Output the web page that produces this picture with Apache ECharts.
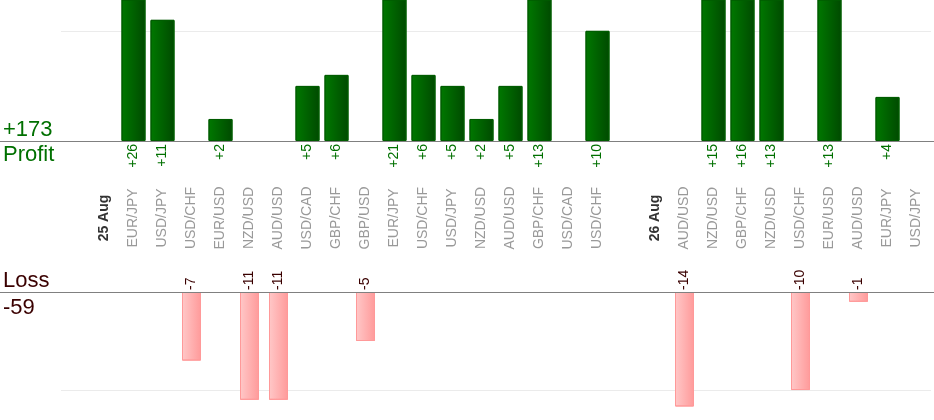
<!DOCTYPE html>
<html>
<head>
<meta charset="utf-8">
<script src="https://cdn.jsdelivr.net/npm/echarts@6/dist/echarts.min.js"></script>
<style>
  html, body { margin: 0; padding: 0; background: #fff; }
  #main { width: 934px; height: 420px; }
</style>
</head>
<body>
<div id="main"></div>
<script>
// slots along the x axis, '' = empty slot
var categories = ['', '25 Aug', 'EUR/JPY', 'USD/JPY', 'USD/CHF', 'EUR/USD', 'NZD/USD', 'AUD/USD', 'USD/CAD', 'GBP/CHF',
    'GBP/USD', 'EUR/JPY', 'USD/CHF', 'USD/JPY', 'NZD/USD', 'AUD/USD', 'GBP/CHF', 'USD/CAD', 'USD/CHF', '',
    '26 Aug', 'AUD/USD', 'NZD/USD', 'GBP/CHF', 'NZD/USD', 'USD/CHF', 'EUR/USD', 'AUD/USD', 'EUR/JPY', 'USD/JPY'];
var dates = ['25 Aug', '26 Aug'];
var profit = [null, null, 26, 11, null, 2, null, null, 5, 6,
    null, 21, 6, 5, 2, 5, 13, null, 10, null,
    null, null, 15, 16, 13, null, 13, null, 4, null];
var loss = [null, null, null, null, -7, null, -11, -11, null, null,
    -5, null, null, null, null, null, null, null, null, null,
    null, -14, null, null, null, -10, null, -1, null, null];

var font = 'Liberation Sans, Arial, sans-serif';
var green = '#007000';
var maroon = '#3a0000';

var totalProfit = profit.reduce(function (s, v) { return s + (v || 0); }, 0);
var totalLoss = loss.reduce(function (s, v) { return s + (v || 0); }, 0);

var chart = echarts.init(document.getElementById('main'));

var option = {
    animation: false,
    backgroundColor: '#fff',
    grid: [
        {left: 61, right: 3, top: 0, height: 141},
        {left: 61, right: 3, top: 292, height: 114}
    ],
    xAxis: [
        {
            // profit values under the profit bars
            type: 'category', gridIndex: 0, position: 'bottom', data: categories,
            axisLine: {show: false}, axisTick: {show: false},
            axisLabel: {
                interval: 0, rotate: 90, margin: 3,
                color: green, fontSize: 14, fontFamily: font,
                formatter: function (v, i) { return profit[i] != null ? '+' + profit[i] : ''; }
            }
        },
        {
            // pair names
            type: 'category', gridIndex: 0, position: 'bottom', data: categories,
            axisLine: {show: false}, axisTick: {show: false},
            axisLabel: {
                interval: 0, rotate: 90, margin: 77, align: 'center',
                color: '#999', fontSize: 14, fontFamily: font,
                formatter: function (v) { return dates.indexOf(v) >= 0 ? '{d|' + v + '}' : v; },
                rich: {d: {fontWeight: 'bold', color: '#333', fontSize: 14, fontFamily: font}}
            }
        },
        {
            // loss values above the loss bars
            type: 'category', gridIndex: 1, position: 'top', data: categories,
            axisLine: {show: false}, axisTick: {show: false},
            axisLabel: {
                interval: 0, rotate: 90, margin: 2,
                color: maroon, fontSize: 14, fontFamily: font,
                formatter: function (v, i) { return loss[i] != null ? String(loss[i]) : ''; }
            }
        }
    ],
    yAxis: [
        {
            type: 'value', gridIndex: 0, min: 0, max: 12.8, interval: 10,
            axisLine: {show: false}, axisTick: {show: false}, axisLabel: {show: false},
            splitLine: {show: true, showMinLine: false, showMaxLine: false, lineStyle: {color: '#ebebeb'}}
        },
        {
            type: 'value', gridIndex: 1, min: 0, max: 11.63, interval: 10, inverse: true,
            axisLine: {show: false}, axisTick: {show: false}, axisLabel: {show: false},
            splitLine: {show: true, showMinLine: false, showMaxLine: false, lineStyle: {color: '#ebebeb'}}
        }
    ],
    series: [
        {
            name: 'Profit', type: 'bar', xAxisIndex: 0, yAxisIndex: 0,
            data: profit, barWidth: 24, clip: true,
            itemStyle: {
                color: new echarts.graphic.LinearGradient(0, 0, 1, 0, [
                    {offset: 0, color: '#007800'},
                    {offset: 1, color: '#004a00'}
                ]),
                borderColor: '#005c00', borderWidth: 1
            }
        },
        {
            name: 'Loss', type: 'bar', xAxisIndex: 2, yAxisIndex: 1,
            data: loss.map(function (v) { return v == null ? null : -v; }),
            barWidth: 19, clip: true,
            itemStyle: {
                color: new echarts.graphic.LinearGradient(0, 0, 1, 0, [
                    {offset: 0, color: '#ffc8c8'},
                    {offset: 1, color: '#ff9a9a'}
                ]),
                borderColor: '#ff9999', borderWidth: 1
            }
        }
    ]
};

chart.setOption(option);

// base lines run across the whole width, totals at the left
var y0 = Math.round(chart.convertToPixel({gridIndex: 0}, [0, 0])[1]) + 0.5;
var y1 = Math.round(chart.convertToPixel({gridIndex: 1}, [0, 0])[1]) + 0.5;

chart.setOption({
    graphic: [
        {type: 'line', shape: {x1: 0, y1: y0, x2: 934, y2: y0}, style: {stroke: '#808080', lineWidth: 1}, z: 10},
        {type: 'line', shape: {x1: 0, y1: y1, x2: 934, y2: y1}, style: {stroke: '#808080', lineWidth: 1}, z: 10},
        {type: 'text', left: 3, top: y0 - 23, style: {text: '+' + totalProfit, fill: green, fontSize: 22, fontFamily: font}},
        {type: 'text', left: 3, top: y0 + 2, style: {text: 'Profit', fill: green, fontSize: 22, fontFamily: font}},
        {type: 'text', left: 3, top: y1 - 23, style: {text: 'Loss', fill: maroon, fontSize: 22, fontFamily: font}},
        {type: 'text', left: 3, top: y1 + 4, style: {text: String(totalLoss), fill: maroon, fontSize: 22, fontFamily: font}}
    ]
});
</script>
</body>
</html>
